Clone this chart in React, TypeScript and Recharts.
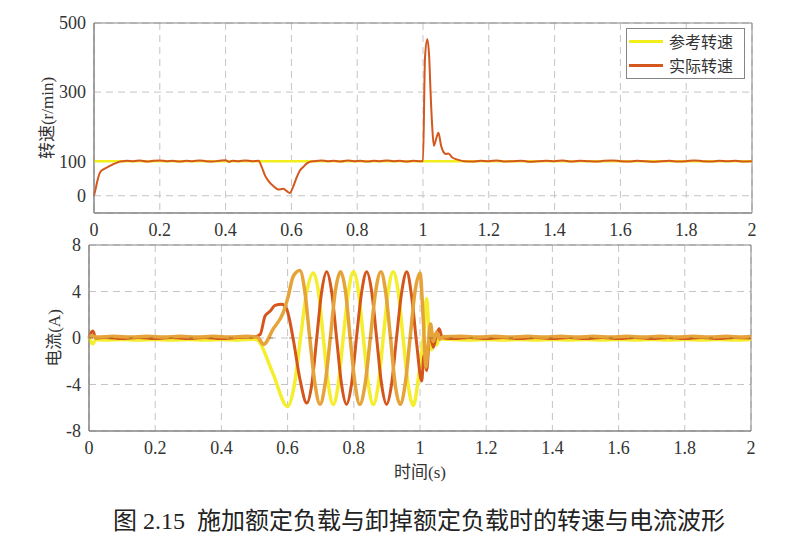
import React from 'react';
import {
  LineChart,
  Line,
  XAxis,
  YAxis,
  CartesianGrid,
  ReferenceArea,
  ReferenceLine,
} from 'recharts';

// time axis ticks, shared by both panels
const timeTicks = [0, 0.2, 0.4, 0.6, 0.8, 1, 1.2, 1.4, 1.6, 1.8, 2];
const speedTicks = [0, 100, 300, 500];
const currentTicks = [-8, -4, 0, 4, 8];

const legendNames = ['参考转速', '实际转速'];

// [t (s), speed (r/min)]
const refSpeed: [number, number][] = [
  [0, 100],
  [2, 100],
];

const actualSpeed: [number, number][] = [
  [0, 0], [0.005, 20], [0.01, 42], [0.02, 70], [0.03, 77], [0.04, 82], [0.05, 87],
  [0.06, 92], [0.07, 96], [0.08, 99], [0.09, 100], [0.1, 101], [0.12, 100], [0.14, 102],
  [0.16, 99], [0.18, 101], [0.2, 102], [0.22, 100], [0.24, 101], [0.26, 99], [0.28, 101],
  [0.3, 100], [0.32, 102], [0.34, 100], [0.36, 99], [0.38, 101], [0.4, 103], [0.41, 98],
  [0.42, 101], [0.44, 100], [0.46, 102], [0.48, 100], [0.5, 101], [0.51, 83], [0.52, 58],
  [0.53, 43], [0.545, 28], [0.56, 18], [0.575, 20], [0.585, 14], [0.595, 8], [0.606, 28],
  [0.616, 53], [0.626, 73], [0.636, 83], [0.646, 93], [0.656, 98], [0.67, 100], [0.69, 102],
  [0.71, 100], [0.73, 101], [0.75, 99], [0.77, 102], [0.79, 100], [0.81, 101], [0.83, 99],
  [0.85, 101], [0.87, 100], [0.89, 102], [0.91, 100], [0.93, 101], [0.95, 99], [0.97, 101],
  [0.99, 100], [1.0, 100], [1.006, 398], [1.013, 453], [1.019, 398], [1.023, 300],
  [1.028, 200], [1.033, 145], [1.04, 165], [1.047, 182], [1.055, 145], [1.062, 127],
  [1.07, 121], [1.077, 122], [1.09, 110], [1.1, 106], [1.11, 103], [1.125, 100],
  [1.15, 99], [1.175, 101], [1.2, 100], [1.225, 102], [1.25, 99], [1.275, 100], [1.3, 101],
  [1.325, 98], [1.35, 100], [1.375, 101], [1.4, 100], [1.425, 102], [1.45, 99], [1.475, 101],
  [1.5, 100], [1.525, 99], [1.55, 101], [1.575, 102], [1.6, 100], [1.625, 99], [1.65, 101],
  [1.675, 100], [1.7, 98], [1.725, 100], [1.75, 101], [1.775, 99], [1.8, 100], [1.825, 102],
  [1.85, 100], [1.875, 99], [1.9, 101], [1.925, 100], [1.95, 101], [1.975, 99], [2, 100],
];

// [t (s), current (A)] for the three phases
const phaseYellow: [number, number][] = [
  [0, 0], [0.005, -0.3], [0.012, -0.5], [0.02, -0.12], [0.05, -0.18], [0.1, -0.12],
  [0.15, -0.18], [0.2, -0.12], [0.25, -0.18], [0.3, -0.12], [0.35, -0.18], [0.4, -0.12],
  [0.45, -0.18], [0.5, -0.1], [0.51, -0.2], [0.555, -3.0], [0.6, -5.9], [0.62, -4.1],
  [0.639, 0], [0.658, 4.0], [0.678, 5.6], [0.693, 4.0], [0.708, 0], [0.723, -4.0],
  [0.738, -5.7], [0.753, -4.0], [0.768, 0], [0.784, 4.0], [0.799, 5.7], [0.814, 4.0],
  [0.829, 0], [0.844, -4.0], [0.859, -5.7], [0.874, -4.0], [0.889, 0], [0.904, 4.0],
  [0.919, 5.7], [0.934, 4.0], [0.949, 0], [0.964, -4.0], [0.98, -5.8], [0.995, -3.5],
  [1.01, 0], [1.02, 3.4], [1.028, 0], [1.035, -1.0], [1.045, 0.3], [1.05, -0.6], [1.06, 0.1],
  [1.07, -0.1], [1.1, -0.12], [1.15, -0.18], [1.2, -0.12], [1.25, -0.18], [1.3, -0.12],
  [1.35, -0.18], [1.4, -0.12], [1.45, -0.18], [1.5, -0.12], [1.55, -0.18], [1.6, -0.12],
  [1.65, -0.18], [1.7, -0.12], [1.75, -0.18], [1.8, -0.12], [1.85, -0.18], [1.9, -0.12],
  [1.95, -0.18], [2, -0.12],
];

const phaseRed: [number, number][] = [
  [0, 0], [0.005, 0.4], [0.012, 0.6], [0.02, 0], [0.05, 0.05], [0.1, -0.05], [0.15, 0.05],
  [0.2, -0.05], [0.25, 0.05], [0.3, -0.05], [0.35, 0.05], [0.4, -0.05], [0.45, 0.05], [0.5, 0.1],
  [0.517, 0.3], [0.532, 1.9], [0.547, 2.3], [0.562, 2.8], [0.582, 2.9], [0.597, 2.5],
  [0.617, -0.1], [0.637, -3.5], [0.658, -5.6], [0.673, -4.0], [0.688, 0], [0.703, 4.0],
  [0.718, 5.7], [0.733, 4.0], [0.748, 0], [0.763, -4.0], [0.778, -5.7], [0.793, -4.0],
  [0.808, 0], [0.824, 4.0], [0.839, 5.7], [0.854, 4.0], [0.869, 0], [0.884, -4.0],
  [0.899, -5.7], [0.914, -4.0], [0.929, 0], [0.945, 4.0], [0.96, 5.7], [0.975, 3.5],
  [0.99, -0.5], [1.005, -3.7], [1.012, -1.5], [1.02, -2.8], [1.03, 0.5], [1.04, -0.8],
  [1.05, 0.3], [1.058, 0.8], [1.065, 0.2], [1.075, 0], [1.1, -0.05], [1.15, 0.05],
  [1.2, -0.05], [1.25, 0.05], [1.3, -0.05], [1.35, 0.05], [1.4, -0.05], [1.45, 0.05],
  [1.5, -0.05], [1.55, 0.05], [1.6, -0.05], [1.65, 0.05], [1.7, -0.05], [1.75, 0.05],
  [1.8, -0.05], [1.85, 0.05], [1.9, -0.05], [1.95, 0.05], [2, 0],
];

const phaseGold: [number, number][] = [
  [0, 0], [0.005, 0.2], [0.012, 0.15], [0.025, 0.08], [0.075, 0.14], [0.125, 0.08],
  [0.175, 0.14], [0.225, 0.08], [0.275, 0.14], [0.325, 0.08], [0.375, 0.14], [0.425, 0.08],
  [0.475, 0.14], [0.51, 0.05], [0.527, -0.55], [0.557, 0.8], [0.587, 2.2], [0.602, 3.6],
  [0.617, 5.3], [0.637, 5.8], [0.652, 4.0], [0.667, 0], [0.683, -4.0], [0.698, -5.7],
  [0.713, -4.0], [0.729, 0], [0.744, 4.0], [0.76, 5.7], [0.775, 4.0], [0.789, 0],
  [0.804, -4.0], [0.818, -5.7], [0.834, -4.0], [0.85, 0], [0.866, 4.0], [0.882, 5.7],
  [0.896, 4.0], [0.911, 0], [0.925, -4.0], [0.94, -5.7], [0.955, -4.0], [0.97, 0],
  [0.985, 4.0], [1.0, 5.6], [1.01, 1.5], [1.018, -2.5], [1.025, -0.5], [1.032, 1.2],
  [1.04, -0.3], [1.05, 0.5], [1.06, -0.1], [1.07, 0.1], [1.125, 0.14], [1.175, 0.08],
  [1.225, 0.14], [1.275, 0.08], [1.325, 0.14], [1.375, 0.08], [1.425, 0.14],
  [1.475, 0.08], [1.525, 0.14], [1.575, 0.08], [1.625, 0.14], [1.675, 0.08],
  [1.725, 0.14], [1.775, 0.08], [1.825, 0.14], [1.875, 0.08], [1.925, 0.14],
  [1.975, 0.08], [2, 0.12],
];

const toRows = (pts: [number, number][]) => pts.map(([t, v]) => ({ t, v }));

const SERIF = "'Times New Roman', 'Liberation Serif', 'DejaVu Serif', 'Noto Sans CJK SC', serif";
const CJK = "'Noto Sans CJK SC', 'Times New Roman', 'Liberation Serif', sans-serif";
const TEXT = '#333';
const GRID = '#c4c4c4';
const BOX = '#858585';

const COLOR_REF = '#f2ee1c';
const COLOR_ACT = '#d4581e';
const COLOR_Y = '#f4ee2e';
const COLOR_R = '#d4561c';
const COLOR_G = '#e5a33a';

const tickStyle = { fontSize: 18, fill: TEXT, fontFamily: SERIF };

function AxisTitle({ viewBox, value, dx }: any) {
  const cx = viewBox.x + dx;
  const cy = viewBox.y + viewBox.height / 2;
  return (
    <text
      x={cx}
      y={cy}
      transform={`rotate(-90, ${cx}, ${cy})`}
      textAnchor="middle"
      dominantBaseline="central"
      fontSize={17}
      fill={TEXT}
      fontFamily={SERIF}
    >
      {value}
    </text>
  );
}

function SpeedPanel() {
  return (
    <LineChart width={790} height={250} margin={{ top: 23, right: 38, bottom: 7, left: 0 }}>
      <CartesianGrid stroke={GRID} strokeDasharray="7 5" />
      <XAxis
        dataKey="t"
        type="number"
        domain={[0, 2]}
        ticks={timeTicks}
        height={30}
        tickLine={false}
        tickMargin={4}
        axisLine={{ stroke: BOX }}
        tick={tickStyle}
        allowDuplicatedCategory={false}
      />
      <YAxis
        type="number"
        domain={[-50, 500]}
        ticks={speedTicks}
        width={94}
        tickLine={false}
        tickMargin={2}
        axisLine={{ stroke: BOX }}
        tick={tickStyle}
        label={<AxisTitle value="转速(r/min)" dx={47} />}
      />
      <ReferenceArea x1={0} x2={2} y1={-50} y2={500} fill="none" stroke={BOX} />
      <Line
        data={toRows(refSpeed)}
        dataKey="v"
        type="linear"
        stroke={COLOR_REF}
        strokeWidth={2.5}
        dot={false}
        isAnimationActive={false}
      />
      <Line
        data={toRows(actualSpeed)}
        dataKey="v"
        type="monotone"
        stroke={COLOR_ACT}
        strokeWidth={2}
        dot={false}
        isAnimationActive={false}
      />
    </LineChart>
  );
}

function CurrentPanel() {
  return (
    <LineChart width={790} height={270} margin={{ top: 15, right: 39, bottom: 39, left: 0 }}>
      <CartesianGrid stroke={GRID} strokeDasharray="7 5" />
      <XAxis
        dataKey="t"
        type="number"
        domain={[0, 2]}
        ticks={timeTicks}
        height={30}
        tickLine={false}
        tickMargin={4}
        axisLine={{ stroke: BOX }}
        tick={tickStyle}
        allowDuplicatedCategory={false}
        label={{ value: '时间(s)', position: 'bottom', offset: 5, fontSize: 17, fill: TEXT, fontFamily: SERIF }}
      />
      <YAxis
        type="number"
        domain={[-8, 8]}
        ticks={currentTicks}
        width={89}
        tickLine={false}
        tickMargin={2}
        axisLine={{ stroke: BOX }}
        tick={tickStyle}
        label={<AxisTitle value="电流(A)" dx={54} />}
      />
      <ReferenceArea x1={0} x2={2} y1={-8} y2={8} fill="none" stroke={BOX} />
      <Line
        data={toRows(phaseYellow)}
        dataKey="v"
        type="monotone"
        stroke={COLOR_Y}
        strokeWidth={3.5}
        dot={false}
        isAnimationActive={false}
      />
      <Line
        data={toRows(phaseRed)}
        dataKey="v"
        type="monotone"
        stroke={COLOR_R}
        strokeWidth={3}
        dot={false}
        isAnimationActive={false}
      />
      <Line
        data={toRows(phaseGold)}
        dataKey="v"
        type="monotone"
        stroke={COLOR_G}
        strokeWidth={3.5}
        dot={false}
        isAnimationActive={false}
      />
      <ReferenceLine y={0} stroke="#8a5a26" strokeOpacity={0.7} strokeDasharray="4 16" />
    </LineChart>
  );
}

export default function App() {
  const legendColors = [COLOR_REF, COLOR_ACT];
  return (
    <div style={{ position: 'absolute', left: 0, top: 0, width: 790, height: 553, background: '#fff' }}>
      <div style={{ position: 'absolute', left: 0, top: 0 }}>
        <SpeedPanel />
      </div>
      <div
        style={{
          position: 'absolute',
          left: 626,
          top: 28,
          width: 117,
          height: 47,
          border: `1px solid ${BOX}`,
          background: '#fff',
          paddingTop: 1,
          paddingBottom: 1,
          boxSizing: 'content-box',
        }}
      >
        {legendNames.map((name, i) => (
          <div key={name} style={{ display: 'flex', alignItems: 'center', height: 23.5 }}>
            <div style={{ width: 34, height: 3, marginLeft: 2, flexShrink: 0, background: legendColors[i] }} />
            <span
              style={{
                marginLeft: 6,
                fontSize: 16,
                lineHeight: '23.5px',
                fontFamily: CJK,
                color: TEXT,
                whiteSpace: 'nowrap',
              }}
            >
              {name}
            </span>
          </div>
        ))}
      </div>
      <div style={{ position: 'absolute', left: 0, top: 230 }}>
        <CurrentPanel />
      </div>
      <div
        style={{
          position: 'absolute',
          left: 113,
          top: 505,
          fontSize: 24,
          lineHeight: '32px',
          fontFamily: SERIF,
          color: '#222',
          whiteSpace: 'nowrap',
        }}
      >
        图 2.15&nbsp; 施加额定负载与卸掉额定负载时的转速与电流波形
      </div>
    </div>
  );
}
